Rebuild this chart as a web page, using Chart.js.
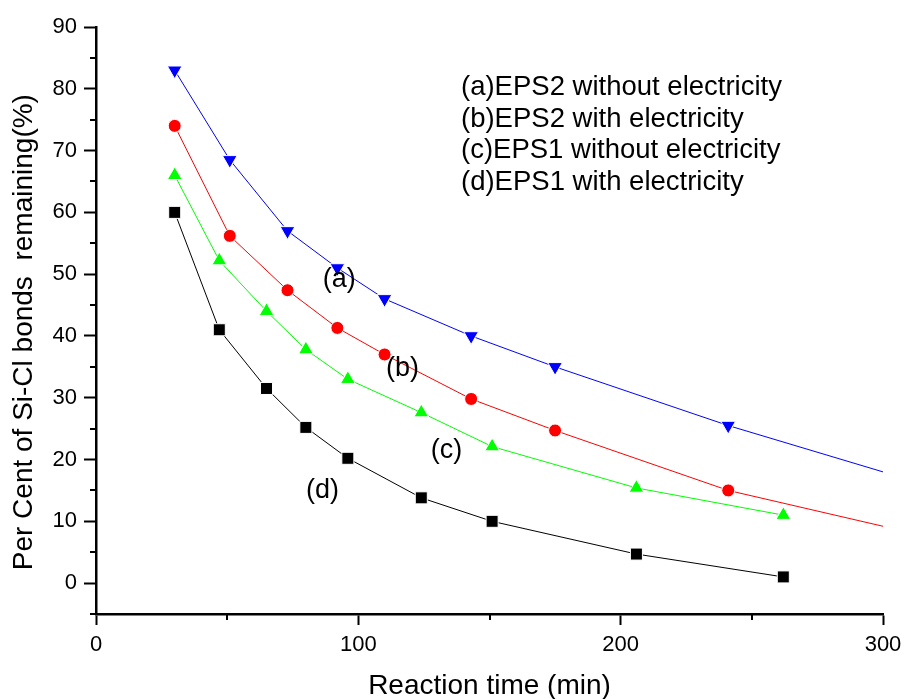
<!DOCTYPE html>
<html>
<head>
<meta charset="utf-8">
<script src="https://cdn.jsdelivr.net/npm/chart.js@4/dist/chart.umd.min.js"></script>
<style>
  html, body { margin: 0; padding: 0; background: #fff; }
  #wrap { width: 904px; height: 699px; }
</style>
</head>
<body>
<div id="wrap"><canvas id="chart" width="904" height="699"></canvas></div>
<script>
// reaction time (min) and remaining Si-Cl bonds (%)
const timeAB = [30, 51, 73, 92, 110, 143, 175, 241];
const remainA = [83, 68.5, 57, 51, 46, 40, 35, 25.5];   // EPS2 without electricity
const remainB = [74, 56.2, 47.4, 41.3, 37, 29.8, 24.7, 15]; // EPS2 with electricity
const timeCD = [30, 47, 65, 80, 96, 124, 151, 206, 262];
const remainC = [66, 52.2, 44, 37.8, 33, 27.6, 22.1, 15.4, 11]; // EPS1 without electricity
const remainD = [60, 41, 31.5, 25.2, 20.2, 13.8, 10, 4.7, 1];   // EPS1 with electricity
// fitted curves for (a) and (b) run on to the axis end
const fitEndTime = 300;
const fitEndA = 18;
const fitEndB = 9.2;

const xTicks = [0, 100, 200, 300];
const yTicks = [0, 10, 20, 30, 40, 50, 60, 70, 80, 90];

const legendLines = [
  '(a)EPS2 without electricity',
  '(b)EPS2 with electricity',
  '(c)EPS1 without electricity',
  '(d)EPS1 with electricity'
];
// curve tags, placed in data units
const tags = [
  { text: '(a)', x: 92.7, y: 49.1 },
  { text: '(b)', x: 116.8, y: 34.7 },
  { text: '(c)', x: 133.6, y: 21.4 },
  { text: '(d)', x: 86.3, y: 14.9 }
];

const FONT = "'Liberation Sans', Arial, sans-serif";

function pts(xs, ys) {
  return xs.map((x, i) => ({ x: x, y: ys[i] }));
}
function radii(n, r, extra) {
  const out = [];
  for (let i = 0; i < n; i++) out.push(r);
  if (extra) out.push(0);
  return out;
}

function series(label, data, color, style, r, rot, hasTail) {
  return {
    label: label,
    data: data,
    showLine: true,
    borderColor: color,
    borderWidth: 1,
    backgroundColor: color,
    pointBackgroundColor: color,
    pointBorderColor: '#ffffff',
    pointBorderWidth: 1,
    pointStyle: style,
    pointRotation: rot,
    pointRadius: radii(hasTail ? data.length - 1 : data.length, r, hasTail),
    pointHoverRadius: r,
    tension: 0,
    fill: false
  };
}

const extras = {
  id: 'extras',
  afterDraw(chart) {
    const ctx = chart.ctx;
    const xs = chart.scales.x, ys = chart.scales.y;
    ctx.save();
    ctx.strokeStyle = '#000';
    ctx.lineWidth = 2;
    // minor ticks
    ctx.beginPath();
    for (let v = -5; v <= 90; v += 10) {
      const py = Math.round(ys.getPixelForValue(v));
      ctx.moveTo(xs.left - 6, py);
      ctx.lineTo(xs.left, py);
    }
    for (let v = 50; v <= 300; v += 100) {
      const px = Math.round(xs.getPixelForValue(v));
      ctx.moveTo(px, ys.bottom);
      ctx.lineTo(px, ys.bottom + 6);
    }
    ctx.stroke();

    // legend text
    ctx.fillStyle = '#000';
    ctx.font = '27.5px ' + FONT;
    ctx.textAlign = 'left';
    ctx.textBaseline = 'alphabetic';
    legendLines.forEach((t, i) => {
      ctx.fillText(t, 461, 95 + i * 31.7);
    });

    // curve tags
    ctx.font = '27px ' + FONT;
    ctx.textAlign = 'center';
    ctx.textBaseline = 'middle';
    tags.forEach(t => {
      ctx.fillText(t.text, xs.getPixelForValue(t.x), ys.getPixelForValue(t.y));
    });
    ctx.restore();
  }
};

new Chart(document.getElementById('chart'), {
  type: 'scatter',
  data: {
    datasets: [
      series('(d)EPS1 with electricity', pts(timeCD, remainD), '#000000', 'rect', 8.5, 0, false),
      series('(c)EPS1 without electricity', pts(timeCD, remainC), '#00ff00', 'triangle', 8.5, 0, false),
      series('(b)EPS2 with electricity', pts(timeAB, remainB).concat([{ x: fitEndTime, y: fitEndB }]), '#ff0000', 'circle', 6.5, 0, true),
      series('(a)EPS2 without electricity', pts(timeAB, remainA).concat([{ x: fitEndTime, y: fitEndA }]), '#0000ff', 'triangle', 8.5, 180, true)
    ]
  },
  options: {
    responsive: false,
    animation: false,
    devicePixelRatio: 1,
    layout: { padding: { top: 27, right: 21, bottom: 0, left: 0 } },
    plugins: {
      legend: { display: false },
      tooltip: { enabled: false },
      title: { display: false }
    },
    scales: {
      x: {
        type: 'linear',
        min: 0,
        max: 300,
        afterBuildTicks: s => { s.ticks = xTicks.map(v => ({ value: v })); },
        afterFit: s => { s.height = 85; s.paddingRight = 0; },
        border: { display: true, color: '#000', width: 2.5 },
        grid: { display: true, drawOnChartArea: false, drawTicks: true, tickLength: 11, tickColor: '#000', tickWidth: 2 },
        ticks: { color: '#000', padding: 7, maxRotation: 0, font: { family: FONT, size: 22 } },
        title: {
          display: true,
          text: 'Reaction time (min)',
          color: '#000',
          font: { family: FONT, size: 28 },
          padding: { top: 0, bottom: -4 }
        }
      },
      y: {
        type: 'linear',
        min: -5,
        max: 90,
        afterBuildTicks: s => { s.ticks = yTicks.map(v => ({ value: v })); },
        afterFit: s => { s.width = 96; },
        border: { display: true, color: '#000', width: 2.5 },
        grid: { display: true, drawOnChartArea: false, drawTicks: true, tickLength: 12, tickColor: '#000', tickWidth: 2 },
        ticks: { color: '#000', padding: 7, font: { family: FONT, size: 22 } },
        title: {
          display: true,
          // trailing spaces nudge the centred title down like the original
          text: 'Per Cent of Si-Cl bonds  remaining(%)   ',
          color: '#000',
          font: { family: FONT, size: 28 },
          padding: { top: 7, bottom: 0 }
        }
      }
    }
  },
  plugins: [extras]
});
</script>
</body>
</html>
